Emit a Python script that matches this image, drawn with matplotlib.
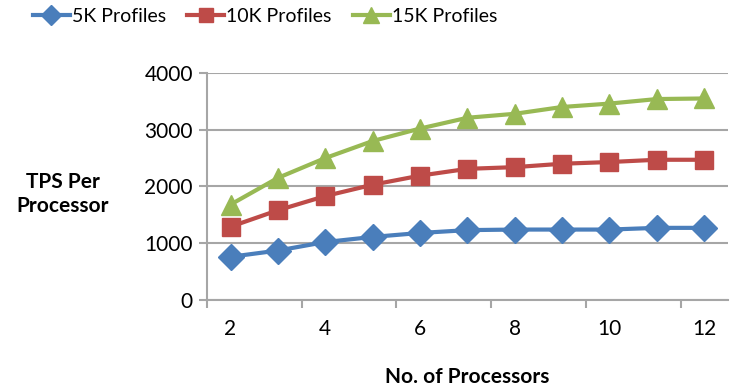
import matplotlib.pyplot as plt
from matplotlib.ticker import FixedLocator

plt.rcParams['font.family'] = ['Lato', 'DejaVu Sans']

# 处理器数量与每处理器TPS
processors = [2, 3, 4, 5, 6, 7, 8, 9, 10, 11, 12]
tps_5k = [760, 870, 1020, 1110, 1180, 1230, 1240, 1240, 1240, 1270, 1270]
tps_10k = [1290, 1580, 1830, 2030, 2190, 2310, 2340, 2400, 2430, 2470, 2470]
tps_15k = [1680, 2150, 2500, 2800, 3020, 3210, 3280, 3400, 3460, 3540, 3550]
series_names = ['5K Profiles', '10K Profiles', '15K Profiles']
x_labels = [2, 4, 6, 8, 10, 12]
y_ticks = [0, 1000, 2000, 3000, 4000]

fig = plt.figure(figsize=(7.36, 3.88), dpi=100)
ax = fig.add_axes([0.281, 0.227, 0.708, 0.585])

grid_c = '#A6A6A6'
ax.plot(processors, tps_5k, '-D', color='#4A7EBB', lw=3, ms=13, label=series_names[0], zorder=3)
ax.plot(processors, tps_10k, '-s', color='#BE4B48', lw=3, ms=13, label=series_names[1], zorder=3)
ax.plot(processors, tps_15k, '-^', color='#98B954', lw=3, ms=14, label=series_names[2], zorder=3)

ax.set_xlim(1.5, 12.5)
ax.set_ylim(0, 4000)
ax.set_yticks(y_ticks)
ax.set_xticks(x_labels)
ax.xaxis.set_minor_locator(FixedLocator([1.5, 3.5, 5.5, 7.5, 9.5, 11.5]))
ax.tick_params(axis='x', which='major', length=0, pad=14, labelsize=15)
ax.tick_params(axis='x', which='minor', length=6, width=1.5, color=grid_c, direction='out')
ax.tick_params(axis='y', length=6, width=1.5, color=grid_c, labelsize=15, pad=4)

ax.grid(axis='y', color=grid_c, lw=1.5)
ax.set_axisbelow(True)
for side in ['top', 'right']:
    ax.spines[side].set_visible(False)
for side in ['left', 'bottom']:
    ax.spines[side].set_color(grid_c)
    ax.spines[side].set_linewidth(1.5)

ax.set_xlabel('No. of Processors', fontsize=15, fontweight='bold', labelpad=20)
fig.text(0.085, 0.50, 'TPS Per\nProcessor', fontsize=15, fontweight='bold',
         ha='center', va='center', linespacing=1.3)

fig.legend(loc='upper center', bbox_to_anchor=(0.36, 1.025), ncol=3, frameon=False,
           fontsize=14, handlelength=1.9, handletextpad=0.1, columnspacing=1.1,
           markerscale=0.8)

plt.savefig('out.png', dpi=100)
